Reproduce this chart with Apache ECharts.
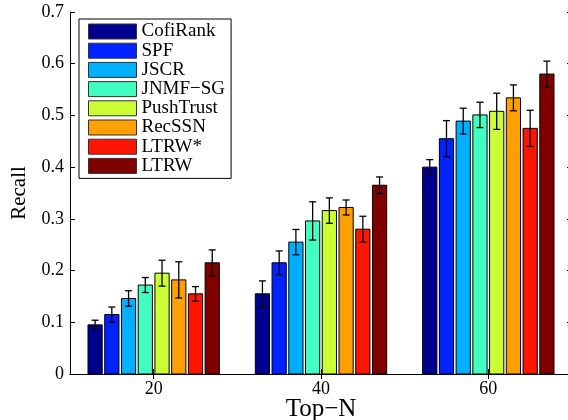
<!DOCTYPE html>
<html>
<head>
<meta charset="utf-8">
<script src="https://cdn.jsdelivr.net/npm/echarts@6/dist/echarts.min.js"></script>
<style>
  html, body { margin: 0; padding: 0; background: #fff; }
  #chart { width: 568px; height: 420px; }
</style>
</head>
<body>
<div id="chart"></div>
<script>
const groupPos = [1, 2, 3];
const topN = ["20", "40", "60"];
const methods = ["CofiRank", "SPF", "JSCR", "JNMF−SG", "PushTrust", "RecSSN", "LTRW*", "LTRW"];
const colors = ["#00008f", "#0022ff", "#00b0ff", "#40ffc0", "#ccff33", "#ffa000", "#ff1500", "#800000"];

// recall per method, one value per Top-N group
const cofiRank = [0.095, 0.155, 0.400];
const spf = [0.115, 0.215, 0.455];
const jscr = [0.146, 0.255, 0.489];
const jnmfSg = [0.172, 0.296, 0.501];
const pushTrust = [0.195, 0.316, 0.508];
const recSsn = [0.182, 0.322, 0.534];
const ltrwStar = [0.155, 0.280, 0.475];
const ltrw = [0.215, 0.365, 0.580];

// half-length of the error bars
const cofiRankErr = [0.009, 0.025, 0.0145];
const spfErr = [0.0145, 0.023, 0.035];
const jscrErr = [0.015, 0.0245, 0.025];
const jnmfSgErr = [0.0145, 0.037, 0.0245];
const pushTrustErr = [0.025, 0.0245, 0.035];
const recSsnErr = [0.035, 0.0145, 0.025];
const ltrwStarErr = [0.014, 0.025, 0.035];
const ltrwErr = [0.025, 0.016, 0.025];

const values = [cofiRank, spf, jscr, jnmfSg, pushTrust, recSsn, ltrwStar, ltrw];
const errs = [cofiRankErr, spfErr, jscrErr, jnmfSgErr, pushTrustErr, recSsnErr, ltrwStarErr, ltrwErr];

const FONT = "'Liberation Serif', 'Times New Roman', serif";
const PITCH = 0.1;   // bar spacing inside a group, x units
const BAR_W = 0.085;
const CAP_W = 0.042;

function makeRender(idx) {
  return function (params, api) {
    const x = api.value(0) + (idx - (methods.length - 1) / 2) * PITCH;
    const v = api.value(1);
    const e = api.value(2);
    const bl = api.coord([x - BAR_W / 2, 0]);
    const tr = api.coord([x + BAR_W / 2, v]);
    const hi = api.coord([x, v + e]);
    const lo = api.coord([x, v - e]);
    const capL = api.coord([x - CAP_W / 2, v])[0];
    const capR = api.coord([x + CAP_W / 2, v])[0];
    const line = { stroke: "#000", lineWidth: 1.3 };
    return {
      type: "group",
      children: [
        {
          type: "rect",
          shape: { x: bl[0], y: tr[1], width: tr[0] - bl[0], height: bl[1] - tr[1] },
          style: { fill: colors[idx], stroke: "#000", lineWidth: 1 },
        },
        { type: "line", shape: { x1: hi[0], y1: hi[1], x2: lo[0], y2: lo[1] }, style: line },
        { type: "line", shape: { x1: capL, y1: hi[1], x2: capR, y2: hi[1] }, style: line },
        { type: "line", shape: { x1: capL, y1: lo[1], x2: capR, y2: lo[1] }, style: line },
      ],
    };
  };
}

const series = methods.map((name, i) => ({
  name,
  type: "custom",
  renderItem: makeRender(i),
  itemStyle: { color: colors[i] },
  encode: { x: 0, y: 1 },
  data: groupPos.map((g, k) => [g, values[i][k], errs[i][k]]),
}));

const axisLine = { show: true, lineStyle: { color: "#000", width: 1 } };
const tickIn = { show: true, inside: true, length: 5, lineStyle: { color: "#000" } };

const option = {
  animation: false,
  backgroundColor: "#fff",
  grid: { left: 70, top: 12, width: 502, height: 362, outerBoundsMode: "none", containLabel: false },
  legend: {
    orient: "vertical",
    left: 79,
    top: 19,
    icon: "rect",
    itemWidth: 48,
    itemHeight: 15,
    itemGap: 0.2,
    padding: [3, 6, 3, 9],
    borderColor: "#000",
    borderWidth: 1,
    backgroundColor: "#fff",
    itemStyle: { borderColor: "#333", borderWidth: 1 },
    textStyle: { fontFamily: FONT, fontSize: 19, color: "#000" },
    data: methods,
  },
  xAxis: [
    {
      type: "value",
      min: 0.5,
      max: 3.5,
      position: "bottom",
      name: "Top−N",
      nameLocation: "middle",
      nameGap: 23,
      nameMoveOverlap: false,
      nameTextStyle: { fontFamily: FONT, fontSize: 25, color: "#000" },
      axisLine,
      axisTick: Object.assign({ customValues: groupPos }, tickIn),
      axisLabel: {
        customValues: groupPos,
        formatter: (v) => topN[groupPos.indexOf(v)],
        fontFamily: FONT, fontSize: 18, color: "#000", margin: 6,
      },
      splitLine: { show: false },
    },
    {
      type: "value",
      min: 0.5,
      max: 3.5,
      position: "top",
      axisLine,
      axisTick: Object.assign({ customValues: groupPos }, tickIn),
      axisLabel: { show: false },
      splitLine: { show: false },
    },
  ],
  yAxis: [
    {
      type: "value",
      min: 0,
      max: 0.7,
      interval: 0.1,
      name: "Recall",
      nameLocation: "middle",
      nameGap: 40,
      nameMoveOverlap: false,
      nameTextStyle: { fontFamily: FONT, fontSize: 21, color: "#000" },
      axisLine,
      axisTick: tickIn,
      axisLabel: { fontFamily: FONT, fontSize: 18, color: "#000", margin: 6 },
      splitLine: { show: false },
    },
    {
      type: "value",
      min: 0,
      max: 0.7,
      interval: 0.1,
      position: "right",
      axisLine,
      axisTick: tickIn,
      axisLabel: { show: false },
      splitLine: { show: false },
    },
  ],
  series,
};

const chart = echarts.init(document.getElementById("chart"));
chart.setOption(option);
</script>
</body>
</html>
